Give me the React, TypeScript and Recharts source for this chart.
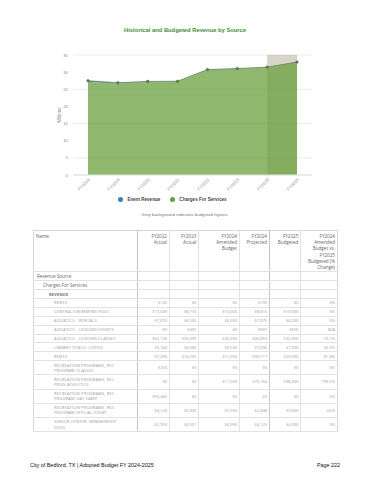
import React from "react"
import { Area, AreaChart, CartesianGrid, XAxis, YAxis, Legend, Line, ReferenceArea } from "recharts"

// chart values (millions)
const years = ["FY2018", "FY2019", "FY2020", "FY2021", "FY2022", "FY2023", "FY2024", "FY2025"]
const chargesForServices = [27.2, 26.7, 27.2, 27.3, 30.7, 31.0, 31.4, 32.9]
const eventRevenue = [0.3, 0.2, 0.1, 0.05, 0.05, 0.05, 0.05, 0.05]
const yTicks = [0, 5, 10, 15, 20, 25, 30, 35]

// table
const headers = [
  "Name",
  "FY2022\nActual",
  "FY2023\nActual",
  "FY2024\nAmended\nBudget",
  "FY2024\nProjected",
  "FY2025\nBudgeted",
  "FY2024\nAmended\nBudget vs.\nFY2025\nBudgeted (%\nChange)",
]
const groupRows = ["Revenue Source", "Charges For Services", "REVENUE"]
const lineItems: string[][] = [
  ["RENTS", "$125", "$0", "$0", "$100", "$0", "0%"],
  ["CENTRAL/SWIMMING POOL", "$13,689", "$8,774", "$10,000", "$8,810", "$10,000", "0%"],
  ["AQUATICS - RENTALS", "$7,670", "$6,566", "$6,000", "$7,975", "$6,000", "0%"],
  ["AQUATICS - LESSONS EVENTS", "$0", "$492", "$0", "$987", "$600", "N/A"],
  ["AQUATICS - LESSONS CLASSES", "$32,156", "$30,393", "$26,000", "$30,850", "$32,000", "23.1%"],
  ["LIBRARY PUBLIC COPIES", "$9,744", "$8,383", "$9,500", "$7,006", "$7,000", "-26.3%"],
  ["RENTS", "$7,490", "$14,235", "$11,000", "$30,717", "$20,000", "81.8%"],
  ["RECREATION PROGRAMS, REC PROGRAM CLASSES", "$203", "$0", "$0", "$0", "$0", "0%"],
  ["RECREATION PROGRAMS, REC PROG ATHLETICS", "$0", "$0", "$11,000", "$75,164", "$98,940", "799.5%"],
  ["RECREATION PROGRAMS, REC PROGRAM DAY CAMP", "$59,445", "$0", "$0", "$0", "$0", "0%"],
  ["RECREATION PROGRAMS, REC PROGRAM SPECIAL EVENT", "$4,124", "$5,926", "$7,500", "$2,848", "$3,000", "-60%"],
  ["SENIOR CENTER: MEMBERSHIP DUES", "$2,950", "$4,501", "$4,000", "$4,125", "$4,000", "0%"],
]

const colWidths = [104, 32, 29.4, 40.6, 30, 31.4, 36.6]
const sans = "'Liberation Sans', Arial, sans-serif"
const tableFont = "'Open Sans', sans-serif"

const chartData = years.map((year, i) => ({
  year,
  charges: chargesForServices[i],
  event: eventRevenue[i],
}))

function colBorder(i: number) {
  if (i === 0) return "none"
  return i === 1 || i === 5 ? "1px solid #c4c4c4" : "1px solid #e2e2e2"
}

function RevenueTable() {
  const cell = (i: number): React.CSSProperties => ({
    borderLeft: colBorder(i),
    borderBottom: "1px solid #e2e2e2",
    padding: "0 2px",
    textAlign: i === 0 ? "left" : "right",
  })
  return (
    <table
      style={{
        position: "absolute",
        left: 33,
        top: 230,
        width: 304,
        borderCollapse: "collapse",
        tableLayout: "fixed",
        border: "1px solid #d6d6d6",
        fontFamily: tableFont,
      }}
    >
      <colgroup>
        {colWidths.map((w, i) => (
          <col key={i} style={{ width: w }} />
        ))}
      </colgroup>
      <tbody>
        <tr style={{ height: 41 }}>
          {headers.map((h, i) => (
            <td
              key={i}
              style={{
                ...cell(i),
                verticalAlign: "top",
                whiteSpace: "pre-line",
                fontSize: 4.6,
                lineHeight: "6.2px",
                color: "#666",
                paddingTop: 2,
              }}
            >
              {h}
            </td>
          ))}
        </tr>
        {groupRows.map((g, r) => (
          <tr key={g} style={{ height: 9 }}>
            {headers.map((_, i) => (
              <td
                key={i}
                style={{
                  ...cell(i),
                  paddingLeft: i === 0 ? 3 + r * 6 : 2,
                  fontSize: r === 2 ? 3.8 : 4.6,
                  fontWeight: r === 2 ? 700 : 400,
                  letterSpacing: r === 2 ? 0.3 : 0,
                  color: "#666",
                  lineHeight: "5px",
                }}
              >
                {i === 0 ? g : ""}
              </td>
            ))}
          </tr>
        ))}
        {lineItems.map((row, r) => {
          const tall = row[0].length > 28
          return (
            <tr key={r} style={{ height: tall ? 14.2 : 8.9 }}>
              {row.map((v, i) => (
                <td
                  key={i}
                  style={{
                    ...cell(i),
                    paddingLeft: i === 0 ? 20 : 2,
                    paddingRight: i === 0 ? 10 : 2,
                    fontSize: 4,
                    lineHeight: "5.3px",
                    letterSpacing: i === 0 ? 0.2 : 0,
                    color: "#9a9a9a",
                  }}
                >
                  {v}
                </td>
              ))}
            </tr>
          )
        })}
      </tbody>
    </table>
  )
}

export default function App() {
  return (
    <div style={{ position: "absolute", left: 0, top: 0, width: 370, height: 480, background: "#fff", fontFamily: sans }}>
      <div
        style={{
          position: "absolute",
          top: 27,
          left: 0,
          width: 370,
          textAlign: "center",
          fontSize: 5.8,
          fontWeight: 700,
          color: "#3f8f30",
        }}
      >
        Historical and Budgeted Revenue by Source
      </div>

      <div style={{ position: "absolute", top: 0, left: 0 }}>
        <AreaChart width={370} height={210} data={chartData} margin={{ top: 55, right: 58, left: 43, bottom: 5 }}>
          <CartesianGrid vertical={false} stroke="#ebebeb" />
          <ReferenceArea x1="FY2024" x2="FY2025" y1={0} y2={35} fill="#706538" fillOpacity={0.28} stroke="none" />
          <XAxis
            dataKey="year"
            interval={0}
            angle={-45}
            textAnchor="end"
            height={20}
            padding={{ left: 15, right: 15 }}
            tickLine={false}
            tickSize={0}
            tickMargin={3}
            axisLine={{ stroke: "#e2e2e2" }}
            tick={{ fontSize: 4.3, fill: "#8a8a8a", fontFamily: sans }}
          />
          <YAxis
            width={30}
            domain={[0, 35]}
            ticks={yTicks}
            tickLine={false}
            axisLine={false}
            tickSize={0}
            tickMargin={5}
            tick={{ fontSize: 4.3, fill: "#8a8a8a", fontFamily: sans }}
            label={{
              value: "Millions",
              angle: -90,
              position: "insideLeft",
              offset: 16,
              style: { textAnchor: "middle", fontSize: 4.5, fill: "#8a8a8a", fontFamily: sans },
            }}
          />
          <Legend
            verticalAlign="bottom"
            align="center"
            iconType="circle"
            iconSize={5}
            itemSorter={(item: any) => (item.value === "Event Revenue" ? 0 : 1)}
            wrapperStyle={{ fontSize: 4.6, lineHeight: "10px", fontWeight: 700, fontFamily: sans }}
            formatter={(v: string) => <span style={{ color: "#444" }}>{v}</span>}
          />
          <Area
            type="linear"
            dataKey="charges"
            name="Charges For Services"
            stackId="rev"
            stroke="none"
            fill="#6aa03e"
            fillOpacity={0.75}
            legendType="circle"
            isAnimationActive={false}
          />
          <Area
            type="linear"
            dataKey="event"
            name="Event Revenue"
            stackId="rev"
            stroke="none"
            fill="#3d7fbf"
            fillOpacity={1}
            legendType="circle"
            isAnimationActive={false}
          />
          <Line
            type="linear"
            dataKey={(d: any) => d.charges + d.event}
            stroke="#6b8560"
            strokeWidth={0.8}
            dot={{ r: 1.3, fill: "#5d7552", stroke: "#5d7552", strokeWidth: 0.5 }}
            legendType="none"
            isAnimationActive={false}
          />
        </AreaChart>
      </div>

      <div
        style={{
          position: "absolute",
          top: 212,
          left: 0,
          width: 370,
          textAlign: "center",
          fontSize: 4.4,
          color: "#777",
        }}
      >
        Grey background indicates budgeted figures.
      </div>

      <RevenueTable />

      <div style={{ position: "absolute", top: 462, left: 30, fontSize: 5.4, color: "#111" }}>
        City of Bedford, TX | Adopted Budget FY 2024-2025
      </div>
      <div style={{ position: "absolute", top: 462, right: 30, fontSize: 5.4, color: "#111" }}>Page 222</div>
    </div>
  )
}
